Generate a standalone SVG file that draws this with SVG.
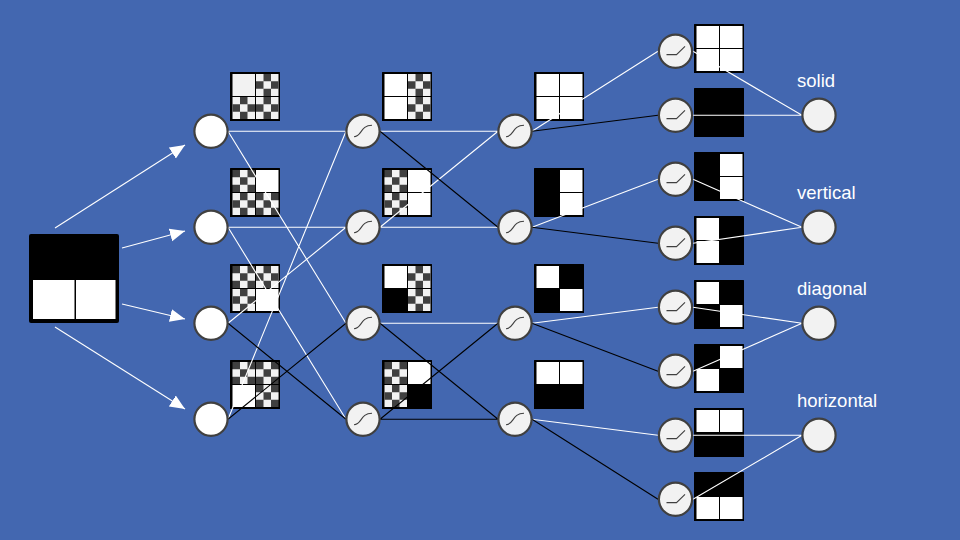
<svg xmlns="http://www.w3.org/2000/svg" width="960" height="540" viewBox="0 0 960 540">
<style>
.w{stroke:#fff;stroke-width:1.1;fill:none}
.b{stroke:#000;stroke-width:1.1;fill:none}
.a{stroke:#fff;stroke-width:1.1;fill:none;marker-end:url(#arr)}
.n{fill:#f2f2f2;stroke:#404040;stroke-width:2.2}
.i{fill:#fff;stroke:#404040;stroke-width:2.2}
.ic{fill:none;stroke:#404040;stroke-width:1.1}
text{font-family:"Liberation Sans",Arial,sans-serif;font-size:18.5px;fill:#fff}
</style>
<defs>
<marker id="arr" markerUnits="userSpaceOnUse" markerWidth="16" markerHeight="14" refX="15" refY="7" orient="auto"><path d="M0,0.5L15,7L0,13.5z" fill="#fff"/></marker>
<rect id="s" width="50" height="49" rx="0.5" fill="#000"/>
<rect id="W" width="22.5" height="22" fill="#fff"/>
<rect id="L" width="22.5" height="22" fill="#f2f2f2"/>
<g id="A"><rect width="22.5" height="22" fill="#f2f2f2"/><path fill="#404040" d="M7.5,0h7.5v7.3h-7.5zM0,7.3h7.5v7.4h-7.5zM15,7.3h7.5v7.4h-7.5zM7.5,14.7h7.5v7.3h-7.5z"/></g>
<g id="B"><rect width="22.5" height="22" fill="#404040"/><path fill="#f2f2f2" d="M7.5,0h7.5v7.3h-7.5zM0,7.3h7.5v7.4h-7.5zM15,7.3h7.5v7.4h-7.5zM7.5,14.7h7.5v7.3h-7.5z"/></g>
<path id="sig" class="ic" d="M-9,5.5C-1,5.5 -3,-6 9,-6"/>
<path id="rel" class="ic" d="M-9,3.3H1L9.500,-5"/>
</defs>
<rect width="960" height="540" fill="#4367B0"/>

<g id="img-input"><rect x="29" y="234" width="90" height="89" rx="2" fill="#000"/><rect x="33" y="280" width="41.5" height="39" fill="#fff"/><rect x="76" y="280" width="39.5" height="39" fill="#fff"/></g>

<g id="img-1-1"><use href="#s" x="230" y="72"/><use href="#L" x="232.5" y="74"/><use href="#A" x="256" y="74"/><use href="#A" x="232.5" y="97"/><use href="#A" x="256" y="97"/></g>
<g id="img-1-2"><use href="#s" x="230" y="168"/><use href="#B" x="232.5" y="170"/><use href="#W" x="256" y="170"/><use href="#A" x="232.5" y="193"/><use href="#B" x="256" y="193"/></g>
<g id="img-1-3"><use href="#s" x="230" y="264"/><use href="#B" x="232.5" y="266"/><use href="#A" x="256" y="266"/><use href="#A" x="232.5" y="289"/><use href="#W" x="256" y="289"/></g>
<g id="img-1-4"><use href="#s" x="230" y="360"/><use href="#B" x="232.5" y="362"/><use href="#B" x="256" y="362"/><use href="#W" x="232.5" y="385"/><use href="#B" x="256" y="385"/></g>

<g id="img-2-1"><use href="#s" x="382" y="72"/><use href="#W" x="384.5" y="74"/><use href="#A" x="408" y="74"/><use href="#W" x="384.5" y="97"/><use href="#A" x="408" y="97"/></g>
<g id="img-2-2"><use href="#s" x="382" y="168"/><use href="#B" x="384.5" y="170"/><use href="#W" x="408" y="170"/><use href="#A" x="384.5" y="193"/><use href="#W" x="408" y="193"/></g>
<g id="img-2-3"><use href="#s" x="382" y="264"/><use href="#W" x="384.5" y="266"/><use href="#A" x="408" y="266"/><use href="#A" x="408" y="289"/></g>
<g id="img-2-4"><use href="#s" x="382" y="360"/><use href="#B" x="384.5" y="362"/><use href="#W" x="408" y="362"/><use href="#A" x="384.5" y="385"/></g>

<g id="img-3-1"><use href="#s" x="534" y="72"/><use href="#W" x="536.5" y="74"/><use href="#W" x="560" y="74"/><use href="#W" x="536.5" y="97"/><use href="#W" x="560" y="97"/></g>
<g id="img-3-2"><use href="#s" x="534" y="168"/><use href="#W" x="560" y="170"/><use href="#W" x="560" y="193"/></g>
<g id="img-3-3"><use href="#s" x="534" y="264"/><use href="#W" x="536.5" y="266"/><use href="#W" x="560" y="289"/></g>
<g id="img-3-4"><use href="#s" x="534" y="360"/><use href="#W" x="536.5" y="362"/><use href="#W" x="560" y="362"/></g>

<g id="img-4-1"><use href="#s" x="694" y="24"/><use href="#W" x="696.5" y="26"/><use href="#W" x="720" y="26"/><use href="#W" x="696.5" y="49"/><use href="#W" x="720" y="49"/></g>
<g id="img-4-2"><use href="#s" x="694" y="88"/></g>
<g id="img-4-3"><use href="#s" x="694" y="152"/><use href="#W" x="720" y="154"/><use href="#W" x="720" y="177"/></g>
<g id="img-4-4"><use href="#s" x="694" y="216"/><use href="#W" x="696.5" y="218"/><use href="#W" x="696.5" y="241"/></g>
<g id="img-4-5"><use href="#s" x="694" y="280"/><use href="#W" x="696.5" y="282"/><use href="#W" x="720" y="305"/></g>
<g id="img-4-6"><use href="#s" x="694" y="344"/><use href="#W" x="720" y="346"/><use href="#W" x="696.5" y="369"/></g>
<g id="img-4-7"><use href="#s" x="694" y="408"/><use href="#W" x="696.5" y="410"/><use href="#W" x="720" y="410"/></g>
<g id="img-4-8"><use href="#s" x="694" y="472"/><use href="#W" x="696.5" y="497"/><use href="#W" x="720" y="497"/></g>

<g id="connectors">
<path class="a" d="M55,228L185,145"/>
<path class="a" d="M122,248L185,231"/>
<path class="a" d="M122,304L185,319"/>
<path class="a" d="M55,327L185,409"/>
<path class="w" d="M228,131.300H346M228,131.300L346,323.300M228,227.300H346M228,227.300L346,419.300M228,323.300L346,227.300M228,419.300L346,131.300"/>
<path class="b" d="M228,323.300L346,419.300M228,419.300L346,323.300"/>
<path class="w" d="M380,131.300H498M380,227.300H498M380,227.300L498,131.300M380,323.300H498"/>
<path class="b" d="M380,131.300L498,227.300M380,323.300L498,419.300M380,419.300H498M380,419.300L498,323.300"/>
<path class="w" d="M532,131.300L658,51.300M532,227.300L658,179.300M532,323.300L658,307.300M532,419.300L658,435.300"/>
<path class="b" d="M532,131.300L658,115.300M532,227.300L658,243.300M532,323.300L658,371.300M532,419.300L658,499.300"/>
<path class="w" d="M693,51.300L802,115.300M693,115.300H802M693,179.300L802,227.300M693,243.300L802,227.300M693,307.300L802,323.300M693,371.300L802,323.300M693,435.300H802M693,499.300L802,435.300"/>
</g>

<g id="n0-1"><circle class="i" cx="211" cy="131.300" r="16.6"/></g>
<g id="n0-2"><circle class="i" cx="211" cy="227.300" r="16.6"/></g>
<g id="n0-3"><circle class="i" cx="211" cy="323.300" r="16.6"/></g>
<g id="n0-4"><circle class="i" cx="211" cy="419.300" r="16.6"/></g>

<g id="n1-1"><circle class="n" cx="363" cy="131.300" r="16.6"/><use href="#sig" x="363" y="131.300"/></g>
<g id="n1-2"><circle class="n" cx="363" cy="227.300" r="16.6"/><use href="#sig" x="363" y="227.300"/></g>
<g id="n1-3"><circle class="n" cx="363" cy="323.300" r="16.6"/><use href="#sig" x="363" y="323.300"/></g>
<g id="n1-4"><circle class="n" cx="363" cy="419.300" r="16.6"/><use href="#sig" x="363" y="419.300"/></g>

<g id="n2-1"><circle class="n" cx="515" cy="131.300" r="16.6"/><use href="#sig" x="515" y="131.300"/></g>
<g id="n2-2"><circle class="n" cx="515" cy="227.300" r="16.6"/><use href="#sig" x="515" y="227.300"/></g>
<g id="n2-3"><circle class="n" cx="515" cy="323.300" r="16.6"/><use href="#sig" x="515" y="323.300"/></g>
<g id="n2-4"><circle class="n" cx="515" cy="419.300" r="16.6"/><use href="#sig" x="515" y="419.300"/></g>

<g id="n3-1"><circle class="n" cx="675.5" cy="51.300" r="16.6"/><use href="#rel" x="675.5" y="51.300"/></g>
<g id="n3-2"><circle class="n" cx="675.5" cy="115.300" r="16.6"/><use href="#rel" x="675.5" y="115.300"/></g>
<g id="n3-3"><circle class="n" cx="675.5" cy="179.300" r="16.6"/><use href="#rel" x="675.5" y="179.300"/></g>
<g id="n3-4"><circle class="n" cx="675.5" cy="243.300" r="16.6"/><use href="#rel" x="675.5" y="243.300"/></g>
<g id="n3-5"><circle class="n" cx="675.5" cy="307.300" r="16.6"/><use href="#rel" x="675.5" y="307.300"/></g>
<g id="n3-6"><circle class="n" cx="675.5" cy="371.300" r="16.6"/><use href="#rel" x="675.5" y="371.300"/></g>
<g id="n3-7"><circle class="n" cx="675.5" cy="435.300" r="16.6"/><use href="#rel" x="675.5" y="435.300"/></g>
<g id="n3-8"><circle class="n" cx="675.5" cy="499.300" r="16.6"/><use href="#rel" x="675.5" y="499.300"/></g>

<g id="out-solid"><circle class="n" cx="819" cy="115.300" r="16.6"/><text x="797" y="87">solid</text></g>
<g id="out-vertical"><circle class="n" cx="819" cy="227.300" r="16.6"/><text x="797" y="199">vertical</text></g>
<g id="out-diagonal"><circle class="n" cx="819" cy="323.300" r="16.6"/><text x="797" y="295">diagonal</text></g>
<g id="out-horizontal"><circle class="n" cx="819" cy="435.300" r="16.6"/><text x="797" y="407">horizontal</text></g>
</svg>
